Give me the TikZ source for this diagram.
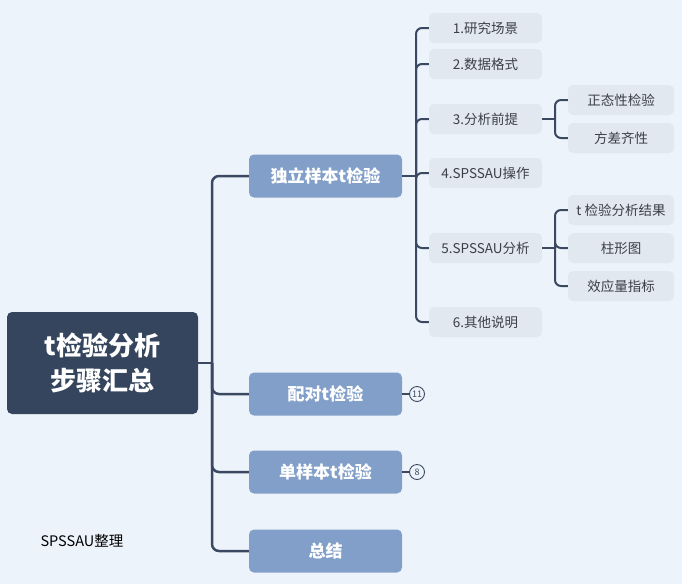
\documentclass[tikz,border=0pt]{standalone}
\usepackage{fontspec}
\setmainfont{Noto Sans CJK SC}
\usetikzlibrary{positioning}
\definecolor{bgcol}{HTML}{EDF3FA}
\definecolor{rootcol}{HTML}{35455D}
\definecolor{maincol}{HTML}{819FC8}
\definecolor{subcol}{HTML}{E2E8F0}
\definecolor{linecol}{HTML}{3A4961}
\definecolor{txtcol}{HTML}{3A3F48}

\begin{document}
\begin{tikzpicture}[
    x=1pt, y=-1pt,
    rootbox/.style={fill=rootcol, rounded corners=5pt, minimum width=191pt, minimum height=102pt,
        inner sep=0pt, text=white, align=center, font=\fontsize{26}{35}\selectfont\bfseries},
    mainbox/.style={fill=maincol, rounded corners=5pt, minimum width=153pt, minimum height=43pt,
        inner sep=0pt, text=white, font=\fontsize{17}{20}\selectfont\bfseries},
    subbox/.style={fill=subcol, rounded corners=5pt, minimum width=113pt, minimum height=30pt,
        inner sep=0pt, text=txtcol, font=\fontsize{13.5}{16}\selectfont},
    leafbox/.style={fill=subcol, rounded corners=5pt, minimum width=106pt, minimum height=30pt,
        inner sep=0pt, text=txtcol, font=\fontsize{13.5}{16}\selectfont},
    badge/.style={draw=linecol, circle, line width=0.9pt, minimum size=15pt, inner sep=0pt,
        text=linecol, font=\fontsize{9}{10}\selectfont},
    link/.style={draw=linecol, line width=2.5pt, rounded corners=7pt},
    sublink/.style={draw=linecol, line width=2pt, rounded corners=6pt}
]
    \fill[bgcol] (0,0) rectangle (682,584);
    \useasboundingbox (0,0) rectangle (682,584);

    % root and first level
    \node[rootbox] (root) at (102.5,363) {t检验分析\\步骤汇总};
    \node[mainbox] (indep) at (325.5,176) {独立样本t检验};
    \node[mainbox] (paired) at (325.5,394) {配对t检验};
    \node[mainbox] (single) at (325.5,472) {单样本t检验};
    \node[mainbox] (summ) at (325.5,551) {总结};

    \coordinate (trunk) at (212,363);
    \draw[link] (root.east) -- (trunk);
    \foreach \n in {indep,paired,single,summ}
        \draw[link] (trunk) |- (\n.west);

    % second level
    \node[subbox] (s1) at (485.5,28) {1.研究场景};
    \node[subbox] (s2) at (485.5,64) {2.数据格式};
    \node[subbox] (s3) at (485.5,119) {3.分析前提};
    \node[subbox] (s4) at (485.5,173) {4.SPSSAU操作};
    \node[subbox] (s5) at (485.5,248) {5.SPSSAU分析};
    \node[subbox] (s6) at (485.5,322) {6.其他说明};

    \coordinate (subtrunk) at (416,176);
    \draw[sublink] (indep.east) -- (subtrunk);
    \foreach \n in {s1,s2,s3,s4,s5,s6}
        \draw[sublink] (subtrunk) |- (\n.west);

    % third level
    \node[leafbox] (normal) at (621,100) {正态性检验};
    \node[leafbox] (homvar) at (621,138) {方差齐性};
    \node[leafbox] (tres) at (621,210) {t 检验分析结果};
    \node[leafbox] (bar) at (621,248) {柱形图};
    \node[leafbox] (effect) at (621,286) {效应量指标};

    \coordinate (fork3) at (555,119);
    \draw[sublink] (s3.east) -- (fork3);
    \foreach \n in {normal,homvar}
        \draw[sublink] (fork3) |- (\n.west);
    \coordinate (fork5) at (555,248);
    \draw[sublink] (s5.east) -- (fork5);
    \foreach \n in {tres,bar,effect}
        \draw[sublink] (fork5) |- (\n.west);

    % collapsed counts
    \node[badge] (npaired) at (417,394) {11};
    \node[badge] (nsingle) at (417,472) {8};
    \draw[linecol, line width=2pt] (paired.east) -- (npaired.west);
    \draw[linecol, line width=2pt] (single.east) -- (nsingle.west);

    \node[font=\fontsize{14.5}{17}\selectfont, anchor=west] (credit) at (37,541) {SPSSAU整理};
\end{tikzpicture}
\end{document}
